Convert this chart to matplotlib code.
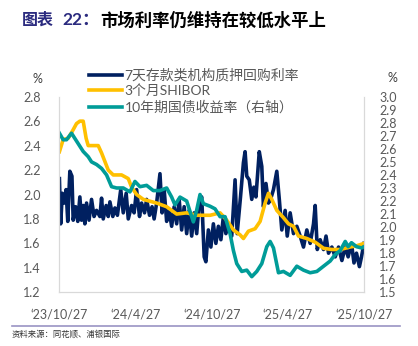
import numpy as np
import pandas as pd
import matplotlib
matplotlib.use("Agg")
import matplotlib.pyplot as plt
from matplotlib.lines import Line2D

plt.rcParams['font.family'] = ['Lato', 'Noto Sans CJK SC', 'DejaVu Sans']

start = pd.Timestamp('2023-10-27')

# 7天存款类机构质押回购利率 (左轴), days after 2023-10-27
dr_days = [1, 4, 8, 13, 17, 21, 26, 31, 34, 40,
           45, 50, 54, 58, 62, 66, 72, 78, 84, 90,
           98, 102, 106, 113, 118, 122, 129, 134, 140, 148,
           154, 161, 166, 174, 180, 186, 193, 198, 205, 210,
           217, 223, 228, 234, 242, 247, 252, 258, 264, 270,
           276, 282, 288, 294, 300, 306, 312, 318, 324, 330,
           336, 342, 348, 352, 358, 364, 370, 376, 382, 388,
           394, 400, 406, 414, 422, 427, 435, 442, 446, 450,
           456, 462, 467, 472, 480, 486, 490, 496, 502, 507,
           514, 522, 528, 534, 542, 547, 554, 562, 570, 578,
           586, 594, 602, 610, 614, 619, 626, 634, 640, 646,
           654, 662, 670, 678, 686, 693, 701, 707, 713, 720,
           725, 731]
dr_vals = [2.13, 1.76, 2.01, 1.93, 2.04, 1.78, 2.19, 2.15, 1.79, 1.90,
           1.78, 1.98, 1.79, 1.91, 1.76, 1.93, 1.79, 1.96, 1.82, 1.87,
           1.82, 1.97, 1.80, 1.91, 1.82, 1.94, 1.82, 1.89, 1.83, 2.04,
           1.85, 2.01, 1.80, 1.91, 1.85, 2.04, 1.82, 1.93, 1.85, 1.96,
           1.83, 1.90, 1.80, 1.93, 2.17, 1.85, 2.04, 1.78, 1.87, 1.74,
           1.90, 1.76, 1.96, 1.71, 1.90, 1.68, 1.87, 1.66, 1.85, 1.68,
           1.93, 1.98, 1.49, 1.45, 1.71, 1.57, 1.76, 1.60, 1.74, 1.63,
           1.82, 1.68, 1.76, 1.66, 2.12, 1.68, 1.98, 2.26, 2.35, 2.15,
           2.12, 1.96, 2.06, 1.98, 2.35, 2.23, 1.90, 2.09, 1.93, 1.96,
           2.04, 2.19, 1.96, 1.71, 1.87, 1.66, 1.85, 1.68, 1.74, 1.66,
           1.57, 1.71, 1.60, 1.76, 1.91, 1.55, 1.63, 1.55, 1.66, 1.52,
           1.57, 1.49, 1.57, 1.46, 1.57, 1.49, 1.60, 1.44, 1.52, 1.41,
           1.49, 1.60]

# 3个月SHIBOR (左轴)
sh_days = [1, 10, 22, 34, 42, 50, 58, 65, 70, 94,
           102, 118, 130, 150, 166, 174, 186, 202, 234, 258,
           282, 306, 330, 362, 386, 402, 418, 434, 442, 454,
           470, 482, 494, 502, 510, 522, 538, 550, 562, 574,
           594, 614, 634, 654, 674, 697, 713, 731]
sh_vals = [2.35, 2.45, 2.46, 2.53, 2.58, 2.60, 2.60, 2.46, 2.40, 2.40,
           2.34, 2.20, 2.16, 2.16, 2.13, 2.06, 2.00, 1.96, 1.93, 1.90,
           1.84, 1.85, 1.83, 1.83, 1.85, 1.79, 1.71, 1.67, 1.64, 1.70,
           1.72, 1.78, 1.93, 2.01, 1.96, 1.87, 1.81, 1.76, 1.74, 1.66,
           1.64, 1.61, 1.56, 1.55, 1.55, 1.57, 1.58, 1.60]

# 10年期国债收益率 (右轴)
gb_days = [1, 10, 18, 30, 42, 58, 70, 78, 90, 102,
           114, 126, 138, 154, 170, 182, 194, 210, 226, 242,
           258, 270, 278, 290, 306, 322, 330, 338, 346, 362,
           374, 386, 398, 410, 418, 426, 438, 450, 462, 474,
           486, 498, 506, 514, 526, 538, 554, 570, 586, 602,
           618, 634, 650, 662, 674, 686, 693, 701, 713, 725,
           731]
gb_vals = [2.72, 2.67, 2.67, 2.72, 2.66, 2.58, 2.54, 2.50, 2.48, 2.45,
           2.40, 2.31, 2.30, 2.30, 2.27, 2.35, 2.31, 2.32, 2.28, 2.28,
           2.30, 2.23, 2.17, 2.23, 2.20, 2.04, 2.13, 2.25, 2.18, 2.16,
           2.14, 2.08, 2.08, 1.95, 1.82, 1.72, 1.66, 1.67, 1.62, 1.66,
           1.72, 1.85, 1.89, 1.84, 1.65, 1.66, 1.63, 1.70, 1.67, 1.65,
           1.66, 1.70, 1.74, 1.79, 1.82, 1.89, 1.85, 1.88, 1.85, 1.84,
           1.85]

tick_dates = ['2023-10-27', '2024-04-27', '2024-10-27', '2025-04-27', '2025-10-27']
tick_labels = ['‘23/10/27', '‘24/4/27', '‘24/10/27', '‘25/4/27', '‘25/10/27']
labels = ['7天存款类机构质押回购利率', '3个月SHIBOR', '10年期国债收益率（右轴）']

navy, gold, teal, grey = '#002060', '#FFC000', '#009C98', '#595959'

def to_dates(days):
    return start + pd.to_timedelta(days, unit='D')

W, H = 418, 346
fig = plt.figure(figsize=(W / 100, H / 100), dpi=100)
ax = fig.add_axes([59 / W, 1 - 292.3 / H, 305 / W, 195.6 / H])
ax2 = ax.twinx()

l1, = ax.plot(to_dates(dr_days), dr_vals, color=navy, lw=2.6)
l2, = ax.plot(to_dates(sh_days), sh_vals, color=gold, lw=2.6)
l3, = ax2.plot(to_dates(gb_days), gb_vals, color=teal, lw=2.6)

ax.set_xlim(pd.Timestamp(tick_dates[0]), pd.Timestamp(tick_dates[-1]))
ax.set_ylim(1.2, 2.8)
ax2.set_ylim(1.5, 3.0)
ax.set_yticks(np.arange(1.2, 2.81, 0.2))
ax.set_yticklabels([f'{v:.1f}' for v in np.arange(1.2, 2.81, 0.2)])
ax2.set_yticks(np.arange(1.5, 3.01, 0.1))
ax2.set_yticklabels([f'{v:.1f}' for v in np.arange(1.5, 3.01, 0.1)])
ax.set_xticks(pd.to_datetime(tick_dates))
ax.set_xticklabels(tick_labels)

for a in (ax, ax2):
    a.spines['top'].set_visible(False)
    for s in ('left', 'right', 'bottom'):
        a.spines[s].set_color('#D9D9D9')
        a.spines[s].set_linewidth(0.8)
ax.tick_params(axis='y', length=0, pad=13, labelsize=9, labelcolor=grey)
ax2.tick_params(axis='y', length=0, pad=11, labelsize=9, labelcolor=grey)
ax.tick_params(axis='x', length=0, pad=11.5, labelsize=9, labelcolor=grey)

fig.text(37 / W, 1 - 79 / H, '%', fontsize=9, color='#404040', ha='center', va='center')
fig.text(392 / W, 1 - 78 / H, '%', fontsize=9, color='#404040', ha='center', va='center')

fig.legend([l1, l2, l3], labels, loc='upper left', bbox_to_anchor=(89 / W, 1 - 68 / H),
           frameon=False, fontsize=10, handlelength=2.4, handletextpad=0.15,
           labelspacing=0.2, borderpad=0, borderaxespad=0, labelcolor=grey)

fig.text(22 / W, 1 - 20 / H, '图表', fontsize=11.5, fontweight='bold',
         color='#2B2B7F', va='center', ha='left')
fig.text(62 / W, 1 - 20 / H, '22：', fontsize=12.5, fontweight='bold',
         color='#2B2B7F', va='center', ha='left')
fig.text(100 / W, 1 - 20 / H, '市场利率仍维持在较低水平上', fontsize=12.5,
         fontweight='bold', color='black', va='center', ha='left')

fig.add_artist(Line2D([12 / W, 400 / W], [1 - 326 / H, 1 - 326 / H],
                      color='#9A94C4', lw=1.2))
fig.text(12 / W, 1 - 334 / H, '资料来源：同花顺、浦银国际', fontsize=6,
         color='#333333', va='center', ha='left')

fig.savefig('out.png', dpi=100)
